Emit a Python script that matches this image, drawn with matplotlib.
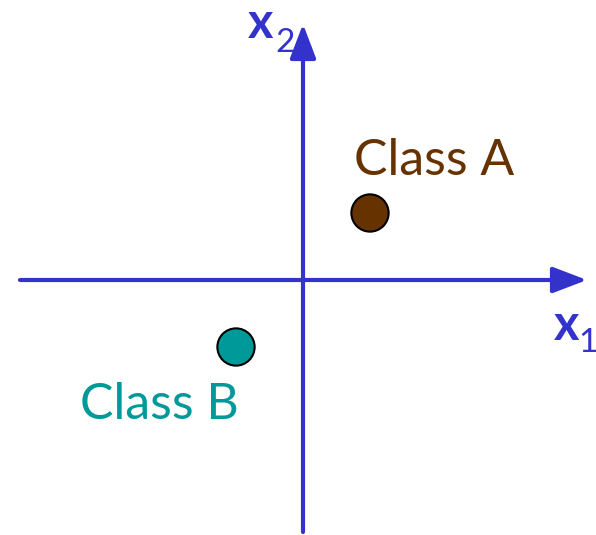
import matplotlib
matplotlib.use("Agg")
import matplotlib.pyplot as plt

# points in feature space (x1, x2)
classes = ["Class A", "Class B"]
x1_vals = [1.0, -1.0]
x2_vals = [1.0, -1.0]
point_colors = ["#663300", "#009999"]

axis_color = "#3333cc"
font = ["Lato", "DejaVu Sans"]

unit = 67.0  # pixels per unit
fig = plt.figure(figsize=(5.96, 5.35), dpi=100)
ax = fig.add_axes([0, 0, 1, 1])
ax.set_xlim(-303 / unit, 293 / unit)
ax.set_ylim(-255 / unit, 280 / unit)
ax.axis("off")

arrow = dict(arrowstyle="-|>,head_length=2.1,head_width=0.8", color=axis_color,
             lw=3, mutation_scale=10, shrinkA=0, shrinkB=0)
ax.annotate("", xy=(284 / unit, 0), xytext=(-283 / unit, 0), arrowprops=arrow)
ax.annotate("", xy=(0, 256 / unit), xytext=(0, -252 / unit), arrowprops=arrow)

ax.scatter(x1_vals, x2_vals, s=720, c=point_colors, edgecolors="black",
           linewidths=1.5, zorder=3)

# class labels
ax.text(354 / unit - 303 / unit, 280 / unit - 175 / unit, classes[0], color=point_colors[0],
        fontsize=36, family=font, ha="left", va="baseline")
ax.text(239 / unit - 303 / unit, 280 / unit - 419 / unit, classes[1], color=point_colors[1],
        fontsize=36, family=font, ha="right", va="baseline")

# axis labels
ax.text(251 / unit, -60 / unit, "x", color=axis_color, fontsize=35, weight="bold",
        family=font, ha="left", va="baseline")
ax.text(275 / unit, -72 / unit, "1", color=axis_color, fontsize=24,
        family=font, ha="left", va="baseline")
ax.text(-55 / unit, 242 / unit, "x", color=axis_color, fontsize=35, weight="bold",
        family=font, ha="left", va="baseline")
ax.text(-28 / unit, 228 / unit, "2", color=axis_color, fontsize=24,
        family=font, ha="left", va="baseline")

fig.savefig("out.png", dpi=100)
